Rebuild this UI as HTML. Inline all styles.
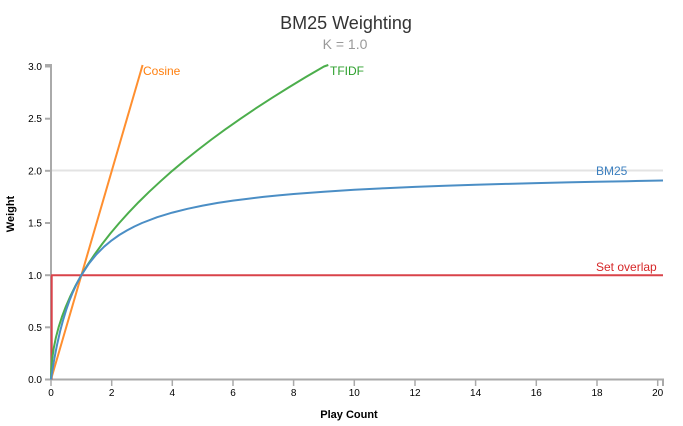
<!DOCTYPE html>
<html><head><meta charset="utf-8"><style>
html,body{margin:0;padding:0;background:#fff;}
svg{display:block;font-family:"Liberation Sans",Arial,sans-serif;}
.tick{font-size:10px;fill:#000;}
.ax{stroke:#aaa;stroke-width:2;fill:none;}
.ln{fill:none;stroke-width:2;stroke-linejoin:round;}
</style></head><body>
<svg width="683" height="426" viewBox="0 0 683 426" xmlns="http://www.w3.org/2000/svg">
<text x="346" y="29" text-anchor="middle" font-size="18" fill="#333">BM25 Weighting</text>
<text x="345" y="49" text-anchor="middle" font-size="14" fill="#999">K = 1.0</text>

<!-- gridline at 2.0 -->
<line x1="51" y1="170.5" x2="663" y2="170.5" stroke="#e3e3e3" stroke-width="2"/>

<!-- axes -->
<path class="ax" d="M45,65H51V379.5H663V386"/>
<g class="ax">
<line x1="45" y1="379.5" x2="51" y2="379.5"/>
<line x1="45" y1="327.3" x2="51" y2="327.3"/>
<line x1="45" y1="275.2" x2="51" y2="275.2"/>
<line x1="45" y1="223.0" x2="51" y2="223.0"/>
<line x1="45" y1="170.8" x2="51" y2="170.8"/>
<line x1="45" y1="118.7" x2="51" y2="118.7"/>
<line x1="45" y1="66.5" x2="51" y2="66.5"/>
</g>
<g class="tick" text-anchor="end">
<text x="42" y="383">0.0</text>
<text x="42" y="331">0.5</text>
<text x="42" y="279">1.0</text>
<text x="42" y="226.5">1.5</text>
<text x="42" y="174.5">2.0</text>
<text x="42" y="122">2.5</text>
<text x="42" y="70">3.0</text>
</g>
<g class="ax" style="stroke-width:1.5">
<line x1="51" y1="379" x2="51" y2="386"/>
<line x1="111.7" y1="379" x2="111.7" y2="386"/>
<line x1="172.3" y1="379" x2="172.3" y2="386"/>
<line x1="233" y1="379" x2="233" y2="386"/>
<line x1="293.6" y1="379" x2="293.6" y2="386"/>
<line x1="354.3" y1="379" x2="354.3" y2="386"/>
<line x1="415" y1="379" x2="415" y2="386"/>
<line x1="475.6" y1="379" x2="475.6" y2="386"/>
<line x1="536.3" y1="379" x2="536.3" y2="386"/>
<line x1="597" y1="379" x2="597" y2="386"/>
<line x1="657.7" y1="379" x2="657.7" y2="386"/>
</g>
<g class="tick" text-anchor="middle">
<text x="51" y="396">0</text>
<text x="111.7" y="396">2</text>
<text x="172.3" y="396">4</text>
<text x="233" y="396">6</text>
<text x="293.6" y="396">8</text>
<text x="354.3" y="396">10</text>
<text x="415" y="396">12</text>
<text x="475.6" y="396">14</text>
<text x="536.3" y="396">16</text>
<text x="597" y="396">18</text>
<text x="657.7" y="396">20</text>
</g>

<text x="349" y="418" text-anchor="middle" font-size="11" font-weight="bold" fill="#000">Play Count</text>
<text transform="translate(14,214) rotate(-90)" text-anchor="middle" font-size="11" font-weight="bold" fill="#000">Weight</text>

<!-- Set overlap -->
<path class="ln" stroke="#d9434a" d="M51.7,379.5V275.2H663"/>
<!-- Cosine -->
<path class="ln" stroke="#ff8f2f" d="M51,379.5L142.6,65"/>
<!-- TFIDF -->
<polyline class="ln" stroke="#4cae4c" points="51,379.5 51.08,374.3 51.3,369.07 52.21,358.63 53.73,348.2 55.85,337.77 58.58,327.34 61.92,316.9 65.86,306.47 70.41,296.04 75.57,285.6 81.33,275.17 87.7,264.7 94.68,254.3 102.26,243.9 110.45,233.4 119.24,223 128.64,212.6 138.65,202.1 149.27,191.7 160.49,181.3 172.32,170.8 184.76,160.4 197.8,150 211.45,139.5 225.7,129.1 240.56,118.7 256.03,108.2 272.1,97.8 288.79,87.4 306.08,76.9 323.97,66.5 328.3,65"/>
<!-- BM25 -->
<polyline class="ln" stroke="#4b8ec5" points="51,379.5 51.76,374.4 52.52,369.6 54.03,360.5 55.55,352.3 57.07,344.7 60.1,331.3 63.13,319.9 66.17,309.9 69.2,301.3 72.23,293.6 76.78,283.6 81.33,275.17 88.91,263.6 96.5,254.3 104.08,246.7 111.66,240.4 119.24,235 126.83,230.5 134.41,226.5 141.99,223 157.16,217.2 172.32,212.6 187.49,208.8 202.65,205.6 217.82,202.9 232.98,200.6 248.15,198.7 263.31,196.9 278.48,195.4 293.64,194 323.97,191.7 354.3,189.8 384.63,188.2 414.96,186.9 445.29,185.7 475.62,184.7 505.95,183.9 536.28,183.1 566.6,182.4 596.94,181.8 627.3,181.2 663,180.5"/>

<g font-size="12">
<text x="143" y="75" fill="#ff7f0e">Cosine</text>
<text x="330" y="75" fill="#2ca02c">TFIDF</text>
<text x="596" y="175" fill="#3b7fbf">BM25</text>
<text x="596" y="271" fill="#d62728">Set overlap</text>
</g>
</svg>
</body></html>
